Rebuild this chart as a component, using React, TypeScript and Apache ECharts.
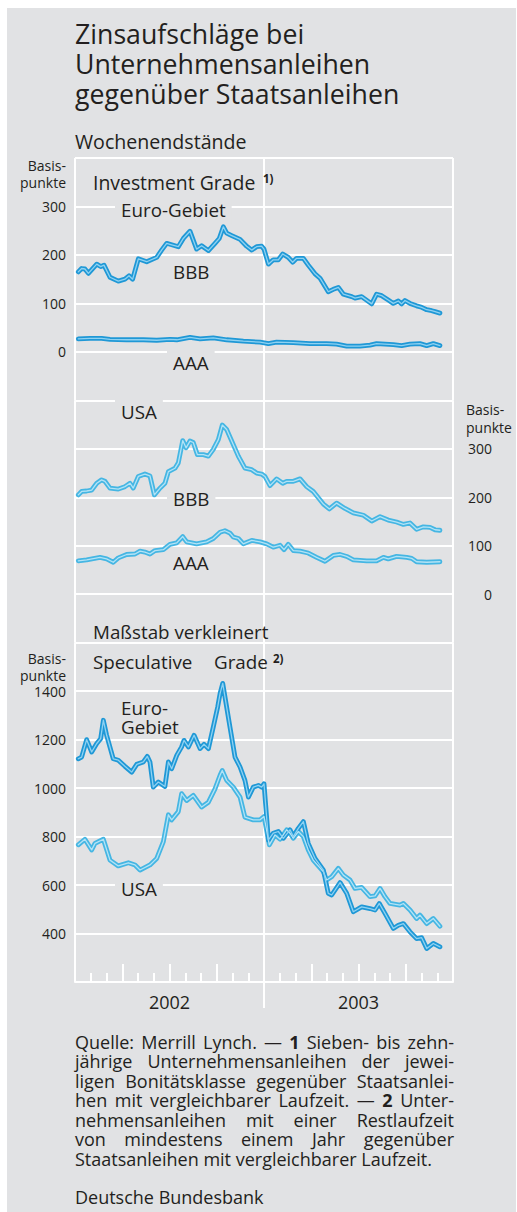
import React, { useEffect, useRef } from 'react';
import * as echarts from 'echarts';

// x = months since 1 January 2002, y = basis points (weekly spreads)
const euroIgBBB: [number, number][] = [
  [0.21, 165], [0.42, 172], [0.63, 171], [0.85, 162], [1.38, 181], [1.63, 176], [1.84, 179], [2.22, 154],
  [2.75, 146], [3.17, 150], [3.43, 157], [3.66, 150], [4.02, 192], [4.55, 186], [5.19, 195], [5.5, 210],
  [5.82, 224], [6.14, 221], [6.56, 217], [6.88, 234], [7.3, 249], [7.72, 212], [8.04, 219], [8.47, 209],
  [8.89, 224], [9.16, 234], [9.42, 258], [9.63, 245], [9.95, 240], [10.48, 232], [10.9, 218], [11.22, 210],
  [11.53, 217], [11.85, 218], [12.0, 212], [12.28, 181], [12.59, 190], [12.91, 190], [13.19, 202], [13.54, 195],
  [13.82, 185], [14.07, 193], [14.5, 193], [14.81, 179], [15.24, 161], [15.56, 152], [16.08, 124], [16.4, 129],
  [16.72, 133], [17.04, 119], [17.57, 114], [17.78, 111], [18.2, 114], [18.84, 99], [19.15, 119], [19.47, 116],
  [19.89, 107], [20.21, 100], [20.53, 105], [20.74, 99], [20.95, 106], [21.27, 100], [21.69, 95], [22.01, 92],
  [22.33, 87], [22.65, 85], [22.86, 83], [23.17, 80],
];
const euroIgAAA: [number, number][] = [
  [0.21, 27], [0.95, 28], [1.69, 28], [2.22, 26], [3.28, 25], [4.34, 25], [5.19, 24], [6.03, 26], [6.46, 25],
  [7.3, 30], [7.94, 27], [8.78, 29], [9.21, 27], [9.63, 25], [10.69, 22], [11.75, 20], [12.28, 17], [12.8, 20],
  [13.86, 19], [14.92, 17], [15.98, 17], [16.61, 16], [17.25, 12], [18.1, 12], [18.73, 14], [19.15, 17],
  [20.21, 15], [20.74, 13], [21.27, 16], [21.9, 17], [22.33, 13], [22.75, 17], [23.17, 13],
];
const usaIgBBB: [number, number][] = [
  [0.21, 205], [0.42, 212], [0.74, 213], [1.06, 215], [1.38, 229], [1.69, 236], [1.9, 233], [2.22, 219],
  [2.75, 217], [3.17, 222], [3.49, 229], [3.7, 219], [4.02, 243], [4.44, 248], [4.76, 244], [5.04, 205],
  [5.4, 219], [5.71, 229], [5.93, 253], [6.35, 260], [6.56, 271], [6.84, 317], [7.05, 302], [7.3, 316],
  [7.51, 313], [7.77, 288], [8.15, 288], [8.47, 285], [8.78, 299], [9.1, 319], [9.35, 349], [9.63, 340],
  [9.95, 316], [10.37, 285], [10.79, 260], [11.22, 257], [11.53, 250], [11.85, 248], [12.06, 243], [12.38, 224],
  [12.8, 238], [13.19, 229], [13.44, 233], [13.86, 233], [14.29, 238], [14.71, 222], [15.13, 212], [15.77, 186],
  [16.15, 176], [16.61, 188], [17.14, 177], [17.67, 168], [18.31, 163], [18.84, 151], [19.37, 160], [19.89, 153],
  [20.42, 149], [20.85, 144], [21.27, 147], [21.69, 134], [22.12, 139], [22.54, 138], [22.86, 133], [23.17, 132],
];
const usaIgAAA: [number, number][] = [
  [0.21, 69], [0.74, 71], [1.59, 76], [2.01, 73], [2.43, 66], [2.75, 75], [3.28, 82], [3.81, 83], [4.13, 89],
  [4.44, 87], [4.76, 83], [5.08, 90], [5.61, 92], [6.03, 103], [6.46, 106], [6.84, 119], [7.09, 108], [7.72, 104],
  [8.36, 108], [8.78, 115], [9.21, 128], [9.52, 131], [9.84, 126], [10.05, 118], [10.37, 115], [10.69, 104],
  [11.22, 111], [11.75, 108], [12.17, 104], [12.59, 97], [13.02, 101], [13.27, 92], [13.54, 103], [13.86, 90],
  [14.29, 89], [14.81, 85], [15.34, 76], [15.87, 68], [16.4, 80], [16.83, 82], [17.25, 78], [17.67, 71],
  [18.52, 69], [19.15, 69], [19.58, 76], [19.89, 73], [20.42, 78], [21.06, 76], [21.38, 74], [21.69, 67],
  [22.33, 66], [23.17, 67],
];
const euroSpec: [number, number][] = [
  [0.21, 1121], [0.42, 1128], [0.74, 1200], [1.06, 1149], [1.38, 1184], [1.63, 1204], [1.8, 1280], [2.01, 1218],
  [2.43, 1121], [2.75, 1115], [3.17, 1090], [3.6, 1066], [3.92, 1098], [4.34, 1108], [4.59, 1131], [4.76, 1108],
  [4.97, 1004], [5.29, 1025], [5.71, 1007], [5.93, 1108], [6.14, 1080], [6.46, 1135], [6.77, 1170], [6.92, 1197],
  [7.2, 1170], [7.56, 1218], [7.94, 1163], [8.19, 1181], [8.47, 1163], [8.78, 1252], [9.06, 1335], [9.21, 1390],
  [9.38, 1432], [9.52, 1377], [9.84, 1252], [10.16, 1128], [10.48, 1087], [10.79, 1032], [11.01, 963],
  [11.32, 1004], [11.64, 1011], [11.85, 1004], [12.0, 1018], [12.28, 786], [12.59, 814], [12.91, 821],
  [13.23, 793], [13.65, 828], [13.86, 800], [14.18, 834], [14.5, 862], [14.81, 772], [15.24, 710], [15.77, 662],
  [16.08, 566], [16.3, 559], [16.83, 610], [17.25, 566], [17.67, 490], [18.2, 510], [18.73, 503], [19.05, 497],
  [19.32, 524], [19.68, 483], [20.21, 421], [20.53, 434], [20.85, 441], [21.27, 407], [21.69, 379], [22.01, 383],
  [22.33, 338], [22.75, 359], [23.17, 345],
];
const usaSpec: [number, number][] = [
  [0.21, 766], [0.63, 789], [1.06, 745], [1.27, 772], [1.8, 789], [2.22, 703], [2.75, 679], [3.39, 692],
  [3.81, 683], [4.13, 662], [4.76, 683], [5.19, 710], [5.61, 779], [5.93, 890], [6.14, 869], [6.56, 903],
  [6.77, 977], [7.09, 949], [7.51, 970], [8.04, 922], [8.47, 942], [8.89, 997], [9.21, 1053], [9.35, 1073],
  [9.63, 1032], [10.05, 1004], [10.48, 963], [10.79, 880], [11.32, 869], [11.75, 869], [12.0, 883], [12.34, 766],
  [12.7, 807], [13.02, 789], [13.44, 828], [13.65, 814], [13.86, 793], [14.18, 821], [14.5, 800], [14.81, 745],
  [15.13, 703], [15.77, 655], [15.98, 621], [16.3, 634], [16.72, 669], [17.04, 641], [17.46, 621], [17.78, 586],
  [18.2, 590], [18.73, 552], [19.05, 555], [19.37, 586], [19.68, 552], [20.0, 524], [20.63, 517], [20.85, 524],
  [21.27, 497], [21.69, 462], [21.9, 476], [22.33, 441], [22.75, 462], [23.17, 430],
];

const yearLabels = ['2002', '2003'];
const yearCentres = [6, 18];
const igTicks = [0, 100, 200, 300];
const specTicks = [400, 600, 800, 1000, 1200, 1400];

const FOOT_LINES = [
  'Quelle: Merrill Lynch. — *1* Sieben- bis zehn-',
  'jährige Unternehmensanleihen der jewei-',
  'ligen Bonitätsklasse gegenüber Staatsanlei-',
  'hen mit vergleichbarer Laufzeit. — *2* Unter-',
  'nehmensanleihen mit einer Restlaufzeit',
  'von mindestens einem Jahr gegenüber',
  'Staatsanleihen mit vergleichbarer Laufzeit.',
];

const FF = '"Open Sans", "Noto Sans", sans-serif';
const INK = '#231f20';
const BG = '#e1e2e4';
const WHITE = '#ffffff';
const EURO_EDGE = '#1f98d6';
const EURO_CORE = '#8fd2f2';
const USA_EDGE = '#45b6e3';
const USA_CORE = '#b3e3f6';

const PLOT_L = 75;
const PLOT_W = 378;
const TOP = 158;
const STEP = (982 - 158) / 17;

let measureCtx: CanvasRenderingContext2D | null = null;
function measure(t: string, size: number, bold = false) {
  if (!measureCtx) measureCtx = document.createElement('canvas').getContext('2d');
  measureCtx!.font = `${bold ? 'bold ' : ''}${size}px "Open Sans"`;
  return measureCtx!.measureText(t).width;
}

function txt(text: string, x: number, y: number, size: number, extra: any = {}) {
  return {
    type: 'text',
    x,
    y,
    z: 101,
    silent: true,
    style: {
      text,
      fill: INK,
      fontSize: size,
      fontFamily: FF,
      align: 'left',
      verticalAlign: 'middle',
      ...extra,
    },
  };
}

function boxed(text: string, x: number, y: number, size: number) {
  const w = measure(text, size);
  return [
    {
      type: 'rect',
      z: 100,
      silent: true,
      shape: { x: x - 6, y: y - size / 2 - 4, width: w + 12, height: size + 8 },
      style: { fill: BG },
    },
    txt(text, x, y, size),
  ];
}

function footnote(): any[] {
  const els: any[] = [];
  const size = 18;
  const x0 = 75;
  const width = 379;
  FOOT_LINES.forEach((line, i) => {
    const y = 1041.7 + i * 19.5;
    const words = line.split(' ').map((w) => {
      const b = /^\*.+\*$/.test(w);
      return { t: b ? w.slice(1, -1) : w, b };
    });
    const widths = words.map((w) => measure(w.t, size, w.b));
    const total = widths.reduce((a, b) => a + b, 0);
    const last = i === FOOT_LINES.length - 1;
    const gap = last ? measure(' ', size) : Math.max(2, (width - total) / (words.length - 1));
    let x = x0;
    words.forEach((w, j) => {
      els.push(txt(w.t, x, y, size, { fontWeight: w.b ? 'bold' : 'normal' }));
      x += widths[j] + gap;
    });
  });
  els.push(txt('Deutsche Bundesbank', x0, 1197, size));
  return els;
}

function cased(name: string, data: [number, number][], xi: number, yi: number, edge: string, core: string) {
  const base = {
    type: 'line',
    data,
    xAxisIndex: xi,
    yAxisIndex: yi,
    symbol: 'none',
    showSymbol: false,
    silent: true,
    animation: false,
    emphasis: { disabled: true },
  };
  return [
    { ...base, name, z: 3, lineStyle: { color: edge, width: 4.8, join: 'round', cap: 'round' } },
    { ...base, name: name + ' (Kern)', z: 4, lineStyle: { color: core, width: 1.3, join: 'round', cap: 'round' } },
  ];
}

function buildOption(): any {
  const grids = [
    { left: PLOT_L, width: PLOT_W, top: TOP, height: STEP * 5 },
    { left: PLOT_L, width: PLOT_W, top: TOP + STEP * 5, height: STEP * 5 },
    { left: PLOT_L, width: PLOT_W, top: TOP + STEP * 10, height: STEP * 7 },
  ];
  const split = { show: true, lineStyle: { color: WHITE, width: 2 } };
  const hiddenX = (g: number) => ({
    type: 'value', gridIndex: g, position: 'bottom', min: 0, max: 24, interval: 12,
    axisLine: { show: false }, axisTick: { show: false }, axisLabel: { show: false }, splitLine: split,
  });
  const xAxis: any[] = [
    hiddenX(0),
    hiddenX(1),
    { ...hiddenX(2), axisLine: { show: true, lineStyle: { color: WHITE, width: 2 } } },
    {
      type: 'value', gridIndex: 2, position: 'bottom', min: 0, max: 24, interval: 1,
      axisLine: { show: false }, axisLabel: { show: false }, splitLine: { show: false },
      axisTick: { show: true, inside: true, length: 9, lineStyle: { color: WHITE, width: 2 } },
    },
    {
      type: 'value', gridIndex: 2, position: 'bottom', min: 0, max: 24, interval: 3,
      axisLine: { show: false }, axisLabel: { show: false }, splitLine: { show: false },
      axisTick: { show: true, inside: true, length: 18, lineStyle: { color: WHITE, width: 2 } },
    },
    {
      type: 'value', gridIndex: 2, position: 'bottom', min: 0, max: 24, interval: 6,
      axisLine: { show: false }, splitLine: { show: false },
      axisTick: { show: true, inside: false, length: 26, customValues: [12], lineStyle: { color: WHITE, width: 2 } },
      axisLabel: {
        show: true, customValues: yearCentres, margin: 11, color: INK, fontSize: 18, fontFamily: FF,
        formatter: (v: number) => yearLabels[yearCentres.indexOf(v)] ?? '',
      },
    },
  ];
  const lab = { color: INK, fontSize: 14, fontFamily: FF, formatter: (v: number) => String(v) };
  const yAxis: any[] = [
    {
      type: 'value', gridIndex: 0, min: -100, max: 400, interval: 100, position: 'left',
      axisLine: { show: false }, axisTick: { show: false }, splitLine: split,
      axisLabel: { ...lab, customValues: igTicks, margin: 9 },
    },
    {
      type: 'value', gridIndex: 1, min: -100, max: 400, interval: 100, position: 'right',
      axisLine: { show: false }, axisTick: { show: false }, splitLine: split,
      axisLabel: { ...lab, customValues: igTicks, margin: 39, align: 'right' },
    },
    {
      type: 'value', gridIndex: 2, min: 200, max: 1600, interval: 200, position: 'left',
      axisLine: { show: false }, axisTick: { show: false }, splitLine: split,
      axisLabel: { ...lab, customValues: specTicks, margin: 9 },
    },
  ];
  const series = [
    ...cased('Euro-Gebiet AAA', euroIgAAA, 0, 0, EURO_EDGE, EURO_CORE),
    ...cased('Euro-Gebiet BBB', euroIgBBB, 0, 0, EURO_EDGE, EURO_CORE),
    ...cased('USA AAA', usaIgAAA, 1, 1, USA_EDGE, USA_CORE),
    ...cased('USA BBB', usaIgBBB, 1, 1, USA_EDGE, USA_CORE),
    ...cased('USA Speculative Grade', usaSpec, 2, 2, USA_EDGE, USA_CORE),
    ...cased('Euro-Gebiet Speculative Grade', euroSpec, 2, 2, EURO_EDGE, EURO_CORE),
  ];
  const L = 18.8;
  const graphic = [
    txt('Zinsaufschläge bei', 75, 33, 26.7),
    txt('Unternehmensanleihen', 75, 63, 26.7),
    txt('gegenüber Staatsanleihen', 75, 93, 26.7),
    txt('Wochenendstände', 75, 141, 19.6),
    txt('Basis-', 66, 165, 14, { align: 'right' }),
    txt('punkte', 66, 182, 14, { align: 'right' }),
    txt('Basis-', 466, 409, 14),
    txt('punkte', 466, 427, 14),
    txt('Basis-', 66, 658.5, 14, { align: 'right' }),
    txt('punkte', 66, 675.5, 14, { align: 'right' }),
    txt('Investment Grade', 93, 182, 19.4),
    txt('1)', 263, 178, 11.5, { fontWeight: 'bold' }),
    ...boxed('Euro-Gebiet', 121, 210, L),
    txt('BBB', 173, 272, L),
    ...boxed('AAA', 173, 363, L),
    ...boxed('USA', 121, 412, L),
    ...boxed('BBB', 173, 499, L),
    txt('AAA', 173, 563, L),
    txt('Maßstab verkleinert', 93, 632, L),
    txt('Speculative', 93, 662, L),
    txt('Grade', 214, 662, L),
    txt('2)', 273, 658, 11.5, { fontWeight: 'bold' }),
    txt('Euro-', 121, 708, L),
    txt('Gebiet', 121, 727, L),
    ...boxed('USA', 121, 889, L),
    ...footnote(),
  ];
  return {
    animation: false,
    backgroundColor: 'transparent',
    textStyle: { fontFamily: FF },
    grid: grids,
    xAxis,
    yAxis,
    series,
    graphic,
  };
}

export default function App() {
  const ref = useRef<HTMLDivElement>(null);
  useEffect(() => {
    const chart = echarts.init(ref.current!, null, { renderer: 'svg' });
    chart.setOption(buildOption());
    return () => chart.dispose();
  }, []);
  return (
    <div style={{ position: 'absolute', left: 0, top: 0, width: 517, height: 1212, background: '#ffffff', overflow: 'hidden' }}>
      <div style={{ position: 'absolute', left: 7, top: 8, width: 509, height: 1204, background: BG }} />
      <div ref={ref} style={{ position: 'absolute', left: 0, top: 0, width: 517, height: 1212 }} />
    </div>
  );
}
